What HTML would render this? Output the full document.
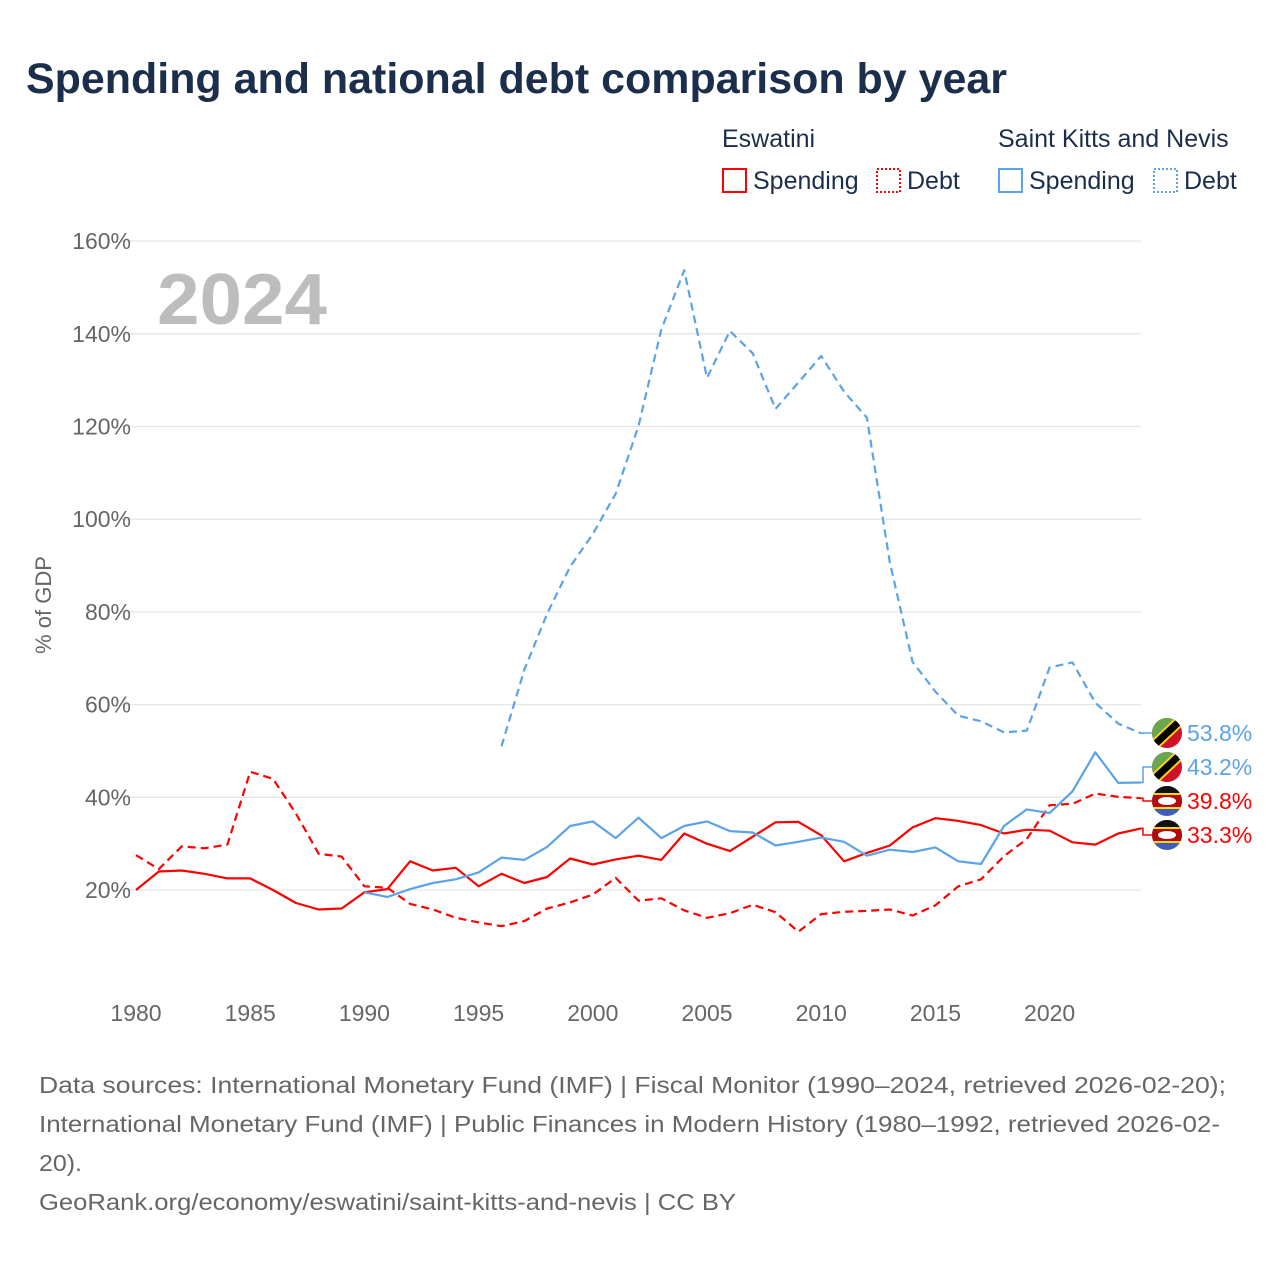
<!DOCTYPE html>
<html><head><meta charset="utf-8"><style>
body{margin:0;background:#fff;font-family:"Liberation Sans",sans-serif;}
svg text{font-family:"Liberation Sans",sans-serif;}
</style></head><body>
<svg id="c" width="1280" height="1280" xmlns="http://www.w3.org/2000/svg">
<text x="26" y="93" font-size="43" font-weight="bold" fill="#1b2e4b" textLength="981" lengthAdjust="spacingAndGlyphs">Spending and national debt comparison by year</text>
<g font-size="25" fill="#1b2e4b">
<text x="722" y="147">Eswatini</text>
<text x="998" y="147">Saint Kitts and Nevis</text>
<rect x="723" y="169" width="23" height="23" fill="none" stroke="#f00" stroke-width="2"/>
<text x="753" y="189">Spending</text>
<rect x="877" y="169" width="23" height="23" fill="none" stroke="#f00" stroke-width="2" stroke-dasharray="2,2"/>
<text x="907" y="189">Debt</text>
<rect x="999" y="169" width="23" height="23" fill="none" stroke="#5ba3e8" stroke-width="2"/>
<text x="1029" y="189">Spending</text>
<rect x="1154" y="169" width="23" height="23" fill="none" stroke="#5ba3e8" stroke-width="2" stroke-dasharray="2,2"/>
<text x="1184" y="189">Debt</text>
</g>
<text x="157" y="324" font-size="72" font-weight="bold" fill="#bdbdbd" textLength="170" lengthAdjust="spacingAndGlyphs">2024</text>
<text transform="translate(51,605) rotate(-90)" text-anchor="middle" font-size="22" fill="#666">% of GDP</text>
<g id="grid"></g><g id="series"></g><g id="ends"></g>
<g font-size="23" fill="#666">
<text x="39" y="1093" textLength="1187" lengthAdjust="spacingAndGlyphs">Data sources: International Monetary Fund (IMF) | Fiscal Monitor (1990–2024, retrieved 2026-02-20);</text>
<text x="39" y="1132" textLength="1181" lengthAdjust="spacingAndGlyphs">International Monetary Fund (IMF) | Public Finances in Modern History (1980–1992, retrieved 2026-02-</text>
<text x="39" y="1171" textLength="43" lengthAdjust="spacingAndGlyphs">20).</text>
<text x="39" y="1210" textLength="697" lengthAdjust="spacingAndGlyphs">GeoRank.org/economy/eswatini/saint-kitts-and-nevis | CC BY</text>
</g>
</svg>
<script>
const yTicks=[20,40,60,80,100,120,140,160];
const xTicks=[1980,1985,1990,1995,2000,2005,2010,2015,2020];
const eswSpendStart=1980;
const eswSpend=[20,24,24.2,23.5,22.5,22.5,20,17.2,15.8,16,19.5,20.2,26.2,24.2,24.8,20.8,23.5,21.5,22.8,26.8,25.5,26.6,27.4,26.5,32.2,30,28.4,31.5,34.6,34.7,31.8,26.2,28,29.6,33.5,35.5,34.9,34,32.2,33,32.8,30.3,29.8,32.2,33.3];
const eswDebtStart=1980;
const eswDebt=[27.5,24.5,29.4,29,29.8,45.5,44,36.5,27.8,27.2,20.8,20.5,17,15.8,14,13,12.2,13.3,16,17.3,19,22.6,17.7,18.2,15.6,14,15,16.8,15.2,11,14.8,15.3,15.5,15.8,14.5,16.7,20.8,22.3,27.3,31,38.3,38.6,40.8,40.1,39.8];
const sknSpendStart=1990;
const sknSpend=[19.5,18.5,20.2,21.5,22.3,23.8,27,26.5,29.3,33.8,34.8,31.2,35.6,31.2,33.8,34.8,32.7,32.4,29.6,30.4,31.3,30.4,27.4,28.7,28.2,29.2,26.2,25.6,33.8,37.4,36.6,41.3,49.7,43.1,43.2];
const sknDebtStart=1996;
const sknDebt=[51,67.5,79.6,89.7,96.8,105.5,120.1,140.9,153.7,130.5,140.6,135.8,123.8,129.5,135.2,127.5,121.9,90.7,69.2,62.8,57.6,56.4,54,54.4,68,69.1,60.4,55.9,53.8];
const NS='http://www.w3.org/2000/svg';
const x=yr=>136+(yr-1980)*(1141-136)/44;
const y=v=>982.7-v*4.635;
function mk(tag,attrs,parent){const e=document.createElementNS(NS,tag);for(const k in attrs)e.setAttribute(k,attrs[k]);parent.appendChild(e);return e;}
const grid=document.getElementById('grid');
yTicks.forEach(t=>{
 const l=mk('line',{x1:120,x2:1141,y1:y(t),y2:y(t),stroke:'#e6e6e6','stroke-width':1.3},grid);
 
 
 const tx=mk('text',{x:131,y:y(t)+8,'text-anchor':'end','font-size':23,fill:'#666'},grid);
 tx.textContent=t+'%';
 
 
});
xTicks.forEach(t=>{
 const tx=mk('text',{x:x(t),y:1021,'text-anchor':'middle','font-size':23,fill:'#666'},grid);
 tx.textContent=t;
 
 
});
const ser=document.getElementById('series');
function line(vals,start,color,dash,name){
 const d=vals.map((v,i)=>(i?'L':'M')+x(start+i).toFixed(1)+','+y(v).toFixed(1)).join('');
 const p=mk('path',{d:d,fill:'none',stroke:color,'stroke-width':2.2,'stroke-linejoin':'round'},ser);
 if(dash)p.setAttribute('stroke-dasharray','8,5');
 
 
}
line(eswDebt,eswDebtStart,'#ff0000',true,'line-eswatini-debt');
line(eswSpend,eswSpendStart,'#ff0000',false,'line-eswatini-spending');
line(sknDebt,sknDebtStart,'#5ba3e8',true,'line-skn-debt');
line(sknSpend,sknSpendStart,'#5ba3e8',false,'line-skn-spending');
const ends=document.getElementById('ends');
const labels=[
 {v:sknDebt[sknDebt.length-1],ly:733,c:'#5ba3e8',f:'skn',n:'skn-debt'},
 {v:sknSpend[sknSpend.length-1],ly:767,c:'#5ba3e8',f:'skn',n:'skn-spending'},
 {v:eswDebt[eswDebt.length-1],ly:801,c:'#ff0000',f:'esw',n:'eswatini-debt'},
 {v:eswSpend[eswSpend.length-1],ly:835,c:'#ff0000',f:'esw',n:'eswatini-spending'}];
labels.forEach(L=>{
 const yy=y(L.v);
 const p=mk('path',{d:`M1141,${yy}H1143V${L.ly}H1152`,fill:'none',stroke:L.c,'stroke-width':1.5},ends);
 
 
 const g=mk('g',{},ends);
 
 
 const id='cl'+L.n;
 const cp=mk('clipPath',{id:id},g);mk('circle',{cx:1167,cy:L.ly,r:15},cp);
 const gg=mk('g',{'clip-path':`url(#${id})`},g);
 if(L.f==='skn'){
  mk('rect',{x:1150,y:L.ly-16,width:34,height:32,fill:'#ce1126'},gg);
  mk('polygon',{points:`1150,${L.ly-16} 1184,${L.ly-16} 1150,${L.ly+16}`,fill:'#6aa84f'},gg);
  mk('line',{x1:1150,y1:L.ly+16,x2:1184,y2:L.ly-16,stroke:'#fcd116','stroke-width':11},gg);
  mk('line',{x1:1150,y1:L.ly+16,x2:1184,y2:L.ly-16,stroke:'#000','stroke-width':7},gg);
 }else{
  mk('rect',{x:1150,y:L.ly-16,width:34,height:32,fill:'#3e5eb9'},gg);
  mk('rect',{x:1150,y:L.ly-16,width:34,height:11,fill:'#111'},gg);
  mk('rect',{x:1150,y:L.ly-7,width:34,height:14,fill:'#b10c0c'},gg);
  mk('rect',{x:1150,y:L.ly-8,width:34,height:2,fill:'#ffd900'},gg);
  mk('rect',{x:1150,y:L.ly+6,width:34,height:2,fill:'#ffd900'},gg);
  mk('ellipse',{cx:1167,cy:L.ly,rx:9,ry:4,fill:'#fff'},gg);
 }
 const t=mk('text',{x:1187,y:L.ly+8,'font-size':23,fill:L.c},ends);
 t.textContent=L.v.toFixed(1)+'%';
 
 
});
</script>
</body></html>
